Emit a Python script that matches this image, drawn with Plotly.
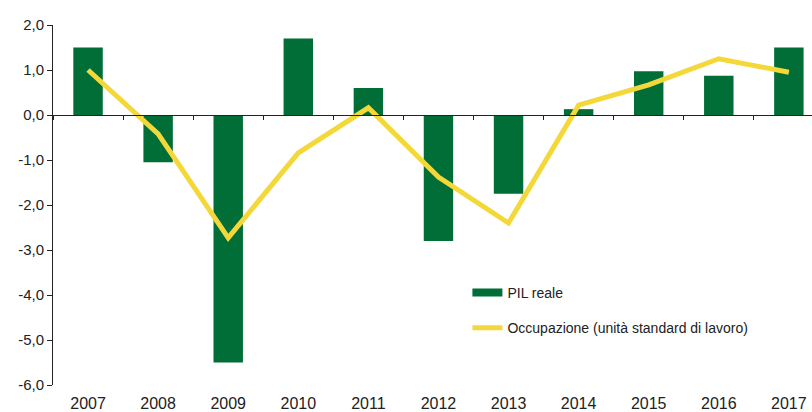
import plotly.graph_objects as go

years = ["2007", "2008", "2009", "2010", "2011", "2012", "2013", "2014", "2015", "2016", "2017"]
pil_reale = [1.5, -1.05, -5.5, 1.7, 0.6, -2.8, -1.75, 0.13, 0.97, 0.87, 1.5]
occupazione = [1.0, -0.42, -2.73, -0.84, 0.16, -1.38, -2.4, 0.22, 0.67, 1.25, 0.95]
y_ticks = [2, 1, 0, -1, -2, -3, -4, -5, -6]
y_tick_labels = ["2,0", "1,0", "0,0", "-1,0", "-2,0", "-3,0", "-4,0", "-5,0", "-6,0"]

GREEN = "#016e37"
YELLOW = "#F4D83A"

fig = go.Figure()
fig.add_trace(go.Bar(
    x=years, y=pil_reale, name="PIL reale",
    marker=dict(color=GREEN, line=dict(width=0)),
    width=0.42, showlegend=False,
))
fig.add_trace(go.Scatter(
    x=years, y=occupazione, name="Occupazione (unità standard di lavoro)",
    mode="lines", line=dict(color=YELLOW, width=5), showlegend=False,
))
# legend-only entries (wide rectangle / line keys as in the reference)
fig.add_trace(go.Scatter(x=[None], y=[None], name="PIL reale", mode="lines",
                         line=dict(color=GREEN, width=8), legendgroup="a"))
fig.add_trace(go.Scatter(x=[None], y=[None], name="Occupazione (unità standard di lavoro)",
                         mode="lines", line=dict(color=YELLOW, width=5), legendgroup="b"))
# helper for the zero axis with ticks on category boundaries
fig.add_trace(go.Scatter(x=years, y=[0] * len(years), xaxis="x2", mode="lines",
                         line=dict(width=0), showlegend=False, hoverinfo="skip"))

fig.update_layout(
    width=812, height=412,
    margin=dict(l=53, r=0, t=25, b=27, autoexpand=False),
    paper_bgcolor="white", plot_bgcolor="white",
    showlegend=True,
    legend=dict(x=0.546, y=0.30, xanchor="left", yanchor="top",
                font=dict(family="Liberation Sans, Arial", size=14, color="#222"),
                tracegroupgap=14, bgcolor="rgba(0,0,0,0)"),
    font=dict(family="Liberation Sans, Arial", color="#222"),
    xaxis=dict(type="category", range=[-0.5, 10.33], showline=False, ticks="",
               showgrid=False, zeroline=False, automargin=False, ticklabelstandoff=7,
               tickfont=dict(family="Liberation Sans, Arial", size=16, color="#222")),
    xaxis2=dict(type="category", range=[-0.5, 10.33], overlaying="x", anchor="free",
                position=0.75, side="bottom", showline=True, linecolor="#222", linewidth=1,
                ticks="outside", ticklen=4, tickcolor="#222", tickson="boundaries",
                showticklabels=False, showgrid=False, zeroline=False, automargin=False),
    yaxis=dict(range=[-6, 2], tickvals=y_ticks, ticktext=y_tick_labels, showline=True,
               linecolor="#222", linewidth=1, ticks="outside", ticklen=5, tickcolor="#222",
               showgrid=False, zeroline=False, automargin=False,
               tickfont=dict(family="Liberation Sans, Arial", size=15, color="#222")),
)

fig.write_html("out.html", config={"displayModeBar": False},
               post_script="document.body.style.margin='0';document.body.style.overflow='hidden';")
